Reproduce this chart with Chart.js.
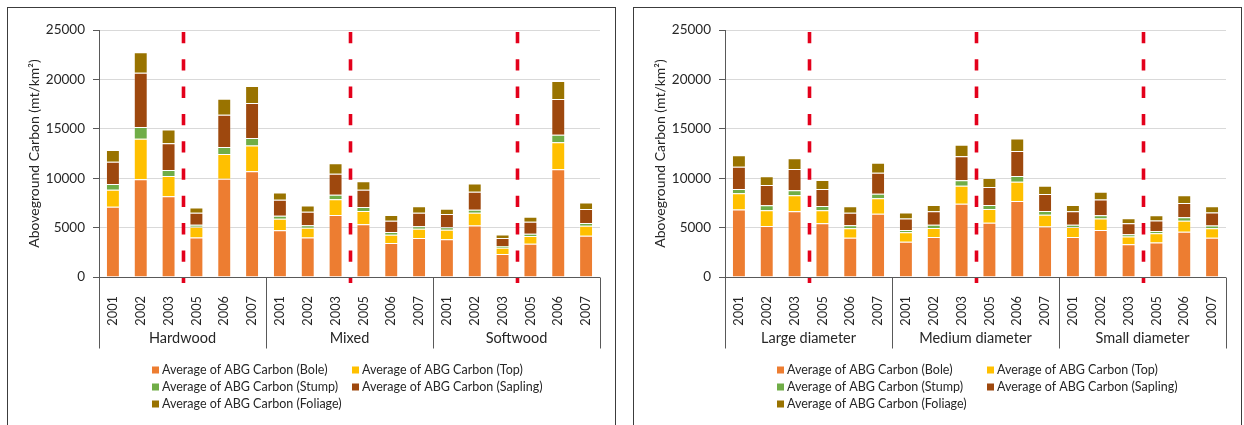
<!DOCTYPE html>
<html>
<head>
<meta charset="utf-8">
<script src="https://cdn.jsdelivr.net/npm/chart.js@4"></script>
<style>
  html, body { margin: 0; padding: 0; background: #fff; }
  body { width: 1244px; height: 425px; position: relative; overflow: hidden; }
  .panel { position: absolute; border: 1.5px solid #3c3c3c; box-sizing: border-box; background: #fff; }
  canvas { position: absolute; }
</style>
</head>
<body>
<div class="panel" style="left:7px;top:7px;width:609px;height:440px"></div>
<div class="panel" style="left:633px;top:7px;width:609px;height:440px"></div>
<canvas id="byType" width="606" height="417" style="left:8px;top:8px"></canvas>
<canvas id="byDiameter" width="606" height="417" style="left:634px;top:8px"></canvas>
<script>
// Inventory years shown inside every group
const years = ['2001', '2002', '2003', '2005', '2006', '2007'];

// Group names for the two panels
const forestTypes = ['Hardwood', 'Mixed', 'Softwood'];
const diameterClasses = ['Large diameter', 'Medium diameter', 'Small diameter'];

// Carbon components (stack order, bottom to top)
const componentNames = [
  'Average of ABG Carbon (Bole)',
  'Average of ABG Carbon (Top)',
  'Average of ABG Carbon (Stump)',
  'Average of ABG Carbon (Sapling)',
  'Average of ABG Carbon (Foliage)'
];
const componentColors = ['#ED7D31', '#FFC000', '#70AD47', '#9E480E', '#997300'];

// y axis range and tick step (mt/km²)
const yMax = 25000;
const yStep = 5000;

// Forest type panel: Hardwood 2001..2007, Mixed 2001..2007, Softwood 2001..2007
const typeBole    = [7100, 9900, 8170, 4000, 9950, 10700, 4720, 4000, 6280, 5330, 3440, 3950, 3810, 5200, 2330, 3370, 10900, 4180];
const typeTop     = [1740, 4100, 2060, 1080, 2500, 2600, 1180, 980, 1580, 1350, 840, 940, 980, 1310, 640, 780, 2730, 1010];
const typeStump   = [570, 1180, 610, 200, 700, 780, 300, 270, 470, 400, 270, 240, 240, 300, 170, 240, 780, 270];
const typeSapling = [2260, 5500, 2700, 1220, 3270, 3540, 1620, 1350, 2130, 1760, 1150, 1380, 1350, 1820, 810, 1210, 3610, 1420];
const typeFoliage = [1180, 2060, 1380, 540, 1620, 1720, 740, 640, 1050, 840, 570, 640, 540, 840, 340, 510, 1820, 670];

// Diameter class panel: Large, Medium, Small, each 2001..2007
const diamBole    = [6820, 5160, 6650, 5430, 3980, 6410, 3580, 4050, 7420, 5500, 7690, 5100, 4050, 4760, 3310, 3480, 4590, 3980];
const diamTop     = [1650, 1590, 1620, 1320, 950, 1550, 940, 910, 1820, 1380, 1960, 1210, 1010, 1150, 780, 940, 1110, 950];
const diamStump   = [440, 510, 510, 440, 300, 470, 240, 340, 540, 410, 570, 370, 240, 340, 240, 240, 340, 270];
const diamSapling = [2260, 2060, 2160, 1720, 1280, 2130, 1150, 1350, 2430, 1820, 2530, 1720, 1350, 1590, 1110, 1050, 1450, 1320];
const diamFoliage = [1150, 880, 1080, 910, 640, 1010, 610, 640, 1180, 910, 1280, 840, 640, 780, 510, 540, 780, 640];

// Dashed divider sits between these two years in each group
const breakAfter = '2003';

const FONT = 'Lato, "Liberation Sans", Arial, sans-serif';
const TEXT = '#262626';
const AXIS = '#595959';

// Draws the grouped category axis, the dashed year dividers and the legend
const groupedAxis = {
  id: 'groupedAxis',
  afterDatasetsDraw(chart, args, opts) {
    const ctx = chart.ctx;
    const xs = chart.scales.x;
    const area = chart.chartArea;
    const per = years.length;
    const mid = i => (xs.getPixelForValue(i) + xs.getPixelForValue(i + 1)) / 2;
    ctx.save();

    // year dividers
    ctx.strokeStyle = '#E3001B';
    ctx.lineWidth = 3.6;
    ctx.setLineDash([11.3, 16]);
    const k = years.indexOf(breakAfter);
    for (let g = 0; g < opts.groups.length; g++) {
      const x = Math.round(mid(g * per + k)) + 0.5;
      ctx.beginPath();
      ctx.moveTo(x, area.top + 2);
      ctx.lineTo(x, area.bottom + 6);
      ctx.stroke();
    }
    ctx.setLineDash([]);

    // x axis line and group separators
    ctx.strokeStyle = AXIS;
    ctx.lineWidth = 1;
    const yb = Math.round(area.bottom) + 0.5;
    ctx.beginPath();
    ctx.moveTo(area.left, yb);
    ctx.lineTo(area.right, yb);
    ctx.stroke();
    for (let g = 0; g <= opts.groups.length; g++) {
      let x;
      if (g === 0) x = area.left;
      else if (g === opts.groups.length) x = area.right;
      else x = mid(g * per - 1);
      x = Math.round(x) + 0.5;
      ctx.beginPath();
      ctx.moveTo(x, yb);
      ctx.lineTo(x, yb + 71);
      ctx.stroke();
    }

    // group names
    ctx.fillStyle = TEXT;
    ctx.font = '14.5px ' + FONT;
    ctx.textAlign = 'center';
    ctx.textBaseline = 'middle';
    opts.groups.forEach((name, g) => {
      const x = (xs.getPixelForValue(g * per) + xs.getPixelForValue(g * per + per - 1)) / 2;
      ctx.fillText(name, x, area.bottom + 61);
    });

    // legend, two columns
    ctx.font = '12.5px ' + FONT;
    ctx.textAlign = 'left';
    chart.data.datasets.forEach((ds, i) => {
      const col = i % 2, row = Math.floor(i / 2);
      const x = opts.legendCols[col];
      const y = area.bottom + 93 + row * 17;
      ctx.fillStyle = ds.backgroundColor;
      ctx.fillRect(x, y - 3.5, 7, 7);
      ctx.fillStyle = TEXT;
      ctx.fillText(ds.label, x + 10, y);
    });
    ctx.restore();
  }
};

function buildLabels(groups) {
  const out = [];
  groups.forEach(() => years.forEach(y => out.push(y)));
  return out;
}

function makeChart(id, groups, series, legendCols) {
  return new Chart(document.getElementById(id), {
    type: 'bar',
    data: {
      labels: buildLabels(groups),
      datasets: series.map((values, i) => ({
        label: componentNames[i],
        data: values,
        backgroundColor: componentColors[i],
        borderColor: 'rgba(255,255,255,0.25)',
        borderWidth: 1,
        categoryPercentage: 1,
        barPercentage: 0.5
      }))
    },
    options: {
      responsive: false,
      animation: false,
      layout: { padding: { top: 22, right: 14, left: 0, bottom: 0 } },
      plugins: {
        legend: { display: false },
        tooltip: { enabled: false },
        groupedAxis: { groups: groups, legendCols: legendCols }
      },
      scales: {
        x: {
          stacked: true,
          grid: { display: false },
          border: { display: false },
          ticks: {
            autoSkip: false, minRotation: 90, maxRotation: 90, padding: 11,
            color: TEXT, font: { family: FONT, size: 12.8 }
          },
          afterFit(s) { s.height = 148; }
        },
        y: {
          stacked: true,
          min: 0, max: yMax,
          ticks: {
            stepSize: yStep, padding: 8, color: TEXT, font: { family: FONT, size: 13.5 },
            callback: v => String(v)
          },
          grid: { color: '#d9d9d9', tickColor: AXIS, tickLength: 6, lineWidth: 1 },
          border: { color: AXIS, width: 1 },
          title: {
            display: true, text: 'Aboveground Carbon (mt/km²)', color: TEXT,
            font: { family: FONT, size: 14 }, padding: { top: 18, bottom: 0 }
          },
          afterFit(s) { s.width = 91; }
        }
      }
    },
    plugins: [groupedAxis]
  });
}

makeChart('byType', forestTypes,
  [typeBole, typeTop, typeStump, typeSapling, typeFoliage], [144, 344]);
makeChart('byDiameter', diameterClasses,
  [diamBole, diamTop, diamStump, diamSapling, diamFoliage], [143, 353]);
</script>
</body>
</html>
